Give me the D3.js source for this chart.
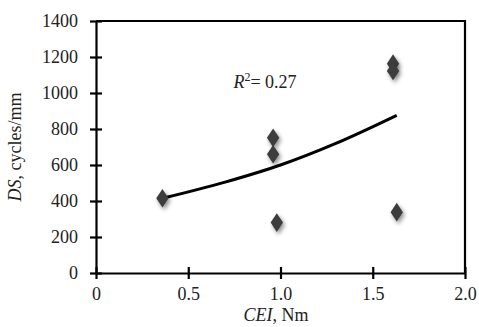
<!DOCTYPE html>
<html>
<head>
<meta charset="utf-8">
<script src="https://cdn.jsdelivr.net/npm/d3@7"></script>
<style>
  body { margin: 0; background: #fff; }
  text { font-family: "Liberation Serif", "DejaVu Serif", serif; fill: #222; }
</style>
</head>
<body>
<div id="chart"></div>
<script>
// measured points (CEI in Nm, DS in cycles/mm)
var cei = [0.36, 0.96, 0.96, 0.98, 1.61, 1.61, 1.63];
var ds  = [415, 751, 660, 280, 1163, 1122, 338];

// trend curve
var trendX = [0.36, 0.7, 1.0, 1.3, 1.63];
var trendY = [415, 505, 600, 720, 876];

var xTicks = [0, 0.5, 1.0, 1.5, 2.0];
var xTickLabels = ["0", "0.5", "1.0", "1.5", "2.0"];
var yTicks = [0, 200, 400, 600, 800, 1000, 1200, 1400];

var margin = { top: 21, right: 14, bottom: 54, left: 96 },
    W = 479, H = 327,
    width = W - margin.left - margin.right,
    height = H - margin.top - margin.bottom;

var svg = d3.select('#chart').append('svg')
  .attr('width', W)
  .attr('height', H);

var defs = svg.append('defs');
var f = defs.append('filter').attr('id', 'shadow')
  .attr('x', '-100%').attr('y', '-100%').attr('width', '300%').attr('height', '300%');
f.append('feDropShadow')
  .attr('dx', 1.5).attr('dy', 2.5).attr('stdDeviation', 2)
  .attr('flood-color', '#000').attr('flood-opacity', 0.45);

var g = svg.append('g').attr('transform', 'translate(' + margin.left + ',' + margin.top + ')');

var x = d3.scaleLinear().domain([0, 2]).range([0, width]);
var y = d3.scaleLinear().domain([0, 1400]).range([height, 0]);

// frame (top + right)
g.append('path')
  .attr('d', 'M0,0H' + width + 'V' + height)
  .attr('fill', 'none').attr('stroke', '#000').attr('stroke-width', 2.2);

// axes
var xAxis = d3.axisBottom(x).tickValues(xTicks)
  .tickFormat(function(d, i) { return xTickLabels[i]; })
  .tickSizeInner(6).tickSizeOuter(0).tickPadding(8);
var yAxis = d3.axisLeft(y).tickValues(yTicks)
  .tickFormat(d3.format('d'))
  .tickSizeInner(6).tickSizeOuter(0).tickPadding(12);

var gx = g.append('g').attr('transform', 'translate(0,' + height + ')').call(xAxis);
var gy = g.append('g').call(yAxis);

[gx, gy].forEach(function(a) {
  a.select('.domain').attr('stroke', '#000').attr('stroke-width', 2.2);
  a.selectAll('.tick line').attr('stroke', '#000').attr('stroke-width', 2.2);
  a.selectAll('.tick text').style('font-size', '18px').attr('fill', '#222');
});
// ticks cross the axis lines
gx.selectAll('.tick line').attr('y1', -6).attr('y2', 6);
gy.selectAll('.tick line').attr('x1', -6).attr('x2', 6);
gx.selectAll('.tick text').attr('y', 14);

// trend line
var line = d3.line()
  .x(function(d) { return x(d[0]); })
  .y(function(d) { return y(d[1]); })
  .curve(d3.curveMonotoneX);
g.append('path')
  .datum(d3.zip(trendX, trendY))
  .attr('d', line)
  .attr('fill', 'none').attr('stroke', '#000').attr('stroke-width', 3);

// diamond markers
var sym = d3.symbol().type(d3.symbolDiamond).size(100);
g.selectAll('.pt').data(d3.zip(cei, ds)).enter().append('path')
  .attr('class', 'pt')
  .attr('d', sym)
  .attr('transform', function(d) { return 'translate(' + x(d[0]) + ',' + y(d[1]) + ') scale(1.15,1)'; })
  .attr('fill', '#3c3c3c')
  .attr('filter', 'url(#shadow)');

// R^2 annotation
var r2 = g.append('text')
  .attr('x', x(0.745)).attr('y', y(1030))
  .style('font-size', '18px');
r2.append('tspan').style('font-style', 'italic').text('R');
r2.append('tspan').attr('dy', -7).style('font-size', '12px').text('2');
r2.append('tspan').attr('dy', 7).text('= 0.27');

// axis titles
var xt = svg.append('text')
  .attr('x', 276).attr('y', 321)
  .attr('text-anchor', 'middle')
  .style('font-size', '18px');
xt.append('tspan').style('font-style', 'italic').text('CEI');
xt.append('tspan').text(', Nm');

var yt = svg.append('text')
  .attr('transform', 'translate(21,147) rotate(-90)')
  .attr('text-anchor', 'middle')
  .style('font-size', '18px');
yt.append('tspan').style('font-style', 'italic').text('DS');
yt.append('tspan').text(', cycles/mm');
</script>
</body>
</html>
